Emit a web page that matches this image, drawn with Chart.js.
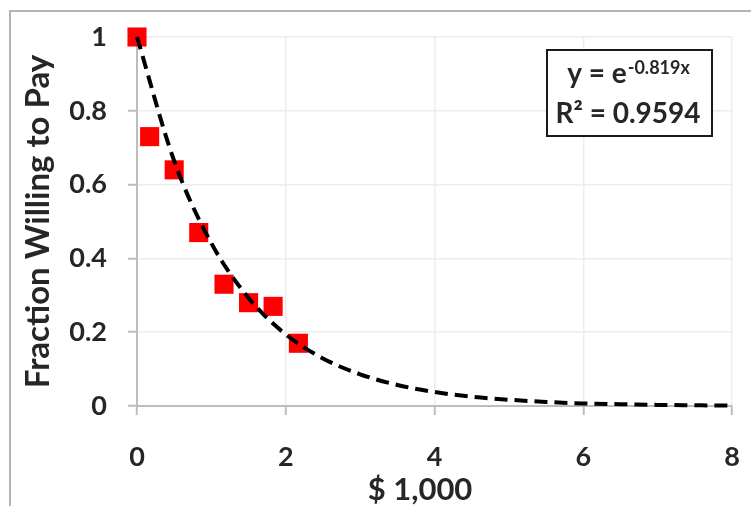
<!DOCTYPE html>
<html>
<head>
<meta charset="utf-8">
<script src="https://cdn.jsdelivr.net/npm/chart.js@4/dist/chart.umd.min.js"></script>
<style>
  html, body { margin: 0; padding: 0; background: #fff; }
  canvas { display: block; }
</style>
</head>
<body>
<canvas id="wtpChart" width="751" height="506"></canvas>
<script>
// --- data ---
const priceK = [0, 0.17, 0.5, 0.83, 1.17, 1.5, 1.83, 2.17];          // $ 1,000
const fractionPaying = [1, 0.73, 0.64, 0.47, 0.33, 0.28, 0.27, 0.17];

// exponential trendline, sampled every 0.5
const trendX = [0, 0.5, 1, 1.5, 2, 2.5, 3, 3.5, 4, 4.5, 5, 5.5, 6, 6.5, 7, 7.5, 8];
const trendY = [1, 0.664, 0.441, 0.293, 0.194, 0.129, 0.086, 0.057, 0.038,
                0.025, 0.017, 0.011, 0.007, 0.005, 0.003, 0.002, 0.001];

const xTickLabels = ["0", "2", "4", "6", "8"];
const yTickLabels = ["0", "0.2", "0.4", "0.6", "0.8", "1"];

const xTitle = "$ 1,000";
const yTitle = "Fraction Willing to Pay";
const eqBase = "y = e";
const eqExp = "-0.819x";
const eqR2 = "R\u00B2 = 0.9594";

const FONT = "Lato, 'Open Sans', sans-serif";
const TEXT = "#262626";

// --- frame, x title and equation box ---
const decorations = {
  id: "decorations",
  beforeDraw(chart) {
    const c = chart.ctx;
    c.save();
    c.fillStyle = "#fff";
    c.fillRect(0, 0, chart.width, chart.height);
    c.strokeStyle = "#b4b4b4";
    c.lineWidth = 2;
    c.strokeRect(10, 11, chart.width + 20, chart.height + 20);
    c.restore();
  },
  afterDraw(chart) {
    const c = chart.ctx;
    c.save();
    // x axis title (sits left of centre in the original)
    c.fillStyle = TEXT;
    c.font = "bold 31px " + FONT;
    c.textAlign = "center";
    c.textBaseline = "alphabetic";
    c.fillText(xTitle, 420, 500);

    // equation box
    c.fillStyle = "#fff";
    c.fillRect(547, 50, 165, 86);
    c.strokeStyle = "#1a1a1a";
    c.lineWidth = 2;
    c.strokeRect(547, 50, 165, 86);

    c.fillStyle = TEXT;
    c.textAlign = "left";
    c.font = "bold 28px " + FONT;
    const wBase = c.measureText(eqBase).width;
    c.font = "bold 18px " + FONT;
    const wExp = c.measureText(eqExp).width;
    let x0 = 628 - (wBase + wExp) / 2;
    c.font = "bold 28px " + FONT;
    c.fillText(eqBase, x0, 83);
    c.font = "bold 18px " + FONT;
    c.fillText(eqExp, x0 + wBase + 1, 74);

    c.font = "bold 28px " + FONT;
    c.textAlign = "center";
    c.fillText(eqR2, 628, 123);
    c.restore();
  }
};

const ctx = document.getElementById("wtpChart").getContext("2d");
new Chart(ctx, {
  type: "scatter",
  data: {
    datasets: [
      {
        label: "Trend",
        data: trendX.map((x, i) => ({ x: x, y: trendY[i] })),
        showLine: true,
        borderColor: "#000",
        borderWidth: 4,
        borderDash: [13, 7],
        cubicInterpolationMode: "monotone",
        pointRadius: 0,
        clip: false,
        order: 0
      },
      {
        label: "Observed",
        data: priceK.map((x, i) => ({ x: x, y: fractionPaying[i] })),
        pointStyle: "rect",
        pointRadius: 13.5,
        pointBackgroundColor: "#ff0000",
        pointBorderWidth: 0,
        clip: false,
        order: 1
      }
    ]
  },
  options: {
    responsive: false,
    animation: false,
    layout: { padding: { left: 0, top: 37, right: 19, bottom: 0 } },
    plugins: {
      legend: { display: false },
      tooltip: { enabled: false }
    },
    scales: {
      x: {
        type: "linear",
        min: 0,
        max: 8,
        afterFit: (s) => { s.height = 100; s.paddingLeft = 0; s.paddingRight = 0; },
        border: { color: "#bdbdbd", width: 2 },
        grid: { color: "#ececec", lineWidth: 1.5, tickLength: 9, tickColor: "#bdbdbd", tickWidth: 2 },
        ticks: {
          stepSize: 2,
          padding: 26,
          color: TEXT,
          font: { family: FONT, size: 27, weight: "bold" },
          callback: (v, i) => xTickLabels[i]
        }
      },
      y: {
        type: "linear",
        min: 0,
        max: 1,
        afterFit: (s) => { s.width = 137; s.paddingTop = 0; s.paddingBottom = 0; },
        border: { color: "#bdbdbd", width: 2 },
        grid: { color: "#ececec", lineWidth: 1.5, tickLength: 9, tickColor: "#bdbdbd", tickWidth: 2 },
        title: {
          display: true,
          text: yTitle,
          color: TEXT,
          font: { family: FONT, size: 33, weight: "bold", lineHeight: 1.2 },
          padding: { top: 19, bottom: 0 }
        },
        ticks: {
          stepSize: 0.2,
          padding: 21,
          color: TEXT,
          font: { family: FONT, size: 27, weight: "bold" },
          callback: (v, i) => yTickLabels[i]
        }
      }
    }
  },
  plugins: [decorations]
});
</script>
</body>
</html>
